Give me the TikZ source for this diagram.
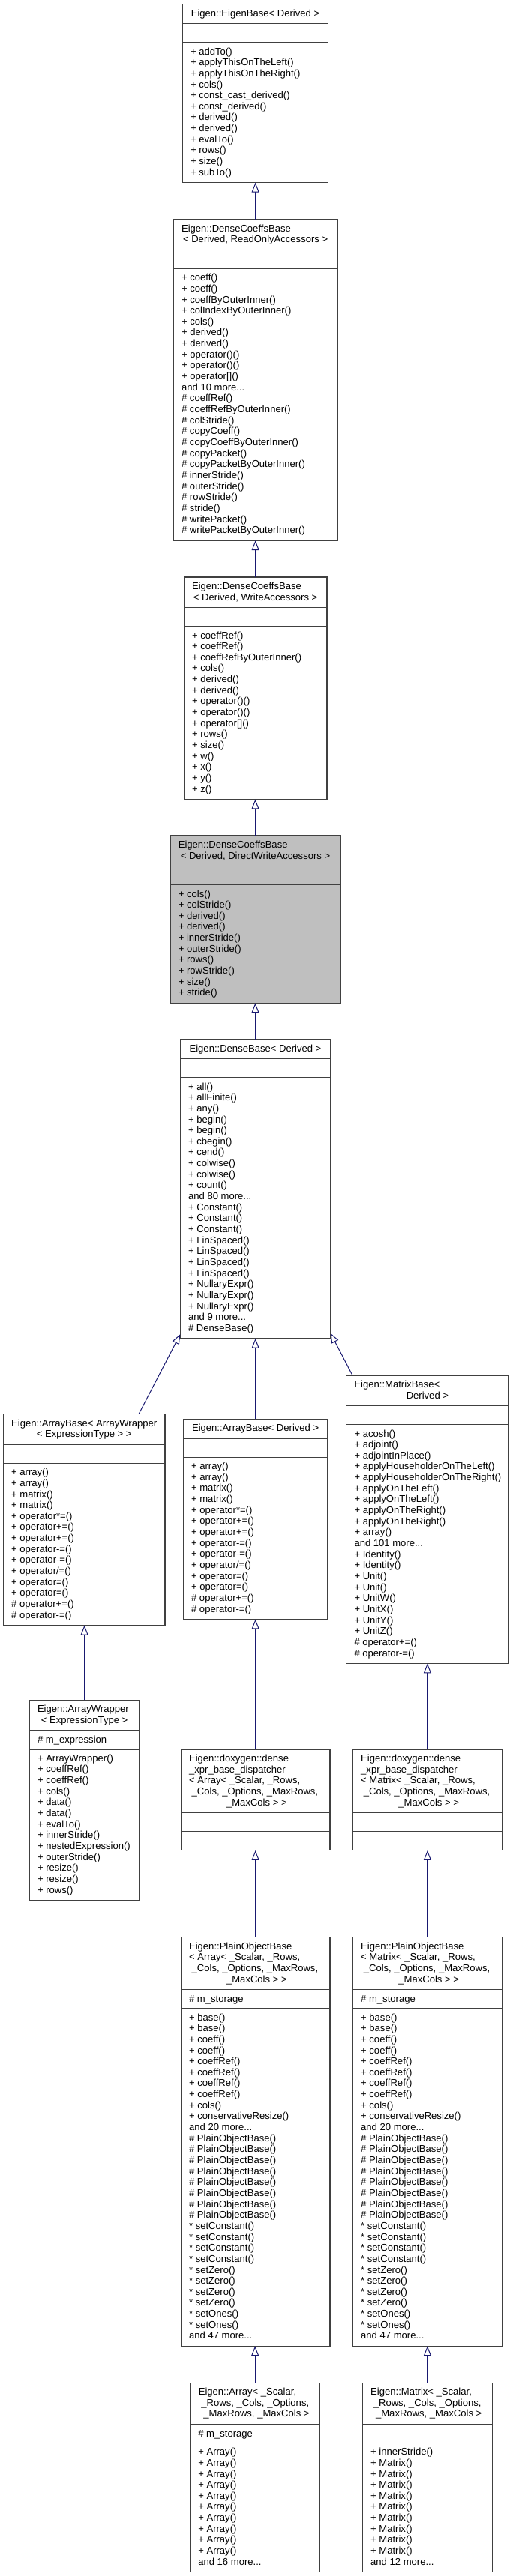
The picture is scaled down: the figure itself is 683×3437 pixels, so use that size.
\documentclass[tikz,border=0pt]{standalone}
\usepackage{fontspec}
\setmainfont{Liberation Sans}
\usetikzlibrary{arrows.meta,fit,calc}
\definecolor{boxc}{HTML}{404040}
\definecolor{arrc}{HTML}{191970}
\definecolor{hl}{HTML}{BFBFBF}
\tikzset{
 umlbox/.style={draw=boxc, line width=0.8pt, inner sep=0pt, outer sep=0pt},
 sepline/.style={draw=boxc, line width=0.8pt},
 txt/.style={anchor=west, inner sep=0pt, outer sep=0pt, text height=7pt, text depth=0pt, font=\fontsize{9.8pt}{11pt}\selectfont},
 ctxt/.style={txt, anchor=center},
 inh/.style={draw=arrc, line width=0.75pt, -{Triangle[open, length=9.75pt, width=7.5pt]}},
}
% #1 name #2 x1 #3 x2 #4 top #5 title lines #6 attribute #7 members #8 number of members #9 fill
\newcommand\ubox[9]{%
 \pgfmathsetmacro\uA{#4+25.7+14.65*(#5-1)}%
 \pgfmathsetmacro\uB{\uA+25.3}%
 \pgfmathsetmacro\uF{\uB+11.7}%
 \pgfmathsetmacro\uT{(#8>0)*(\uF+14.65*(#8-1)+14)+(#8<1)*(\uB+25)}%
 \node[umlbox, fill=#9, fit={(#2,#4) (#3,\uT)}] (#1) {};
 \draw[sepline] (#2,\uA) -- (#3,\uA) (#2,\uB) -- (#3,\uB);
 \node[txt] at ({#2+10.8},{\uA+12.6}) {#6};
 \foreach \t [count=\i from 0] in {#7} {\node[txt] at ({#2+10.8},{\uF+14.65*\i}) {\t};}
}
\begin{document}
\begin{tikzpicture}[x=0.75pt, y=-0.75pt]
\useasboundingbox (0,0) rectangle (683,3437);
\fill[white] (0,0) rectangle (683,3437);

% EigenBase
\ubox{eb}{243.3}{437.7}{5.7}{1}{}{+ addTo(), + applyThisOnTheLeft(), + applyThisOnTheRight(), + cols(), + const\_cast\_derived(), + const\_derived(), + derived(), + derived(), + evalTo(), + rows(), + size(), + subTo()}{12}{white}
\node[ctxt] at (340.5,17.4) {Eigen::EigenBase< Derived >};

% ReadOnly
\ubox{ro}{231.3}{450}{292.7}{2}{}{+ coeff(), + coeff(), + coeffByOuterInner(), + colIndexByOuterInner(), + cols(), + derived(), + derived(), + operator()(), + operator()(), + operator[](), and 10 more.{}.{}., \# coeffRef(), \# coeffRefByOuterInner(), \# colStride(), \# copyCoeff(), \# copyCoeffByOuterInner(), \# copyPacket(), \# copyPacketByOuterInner(), \# innerStride(), \# outerStride(), \# rowStride(), \# stride(), \# writePacket(), \# writePacketByOuterInner()}{24}{white}
\node[txt] at (242.1,304.4) {Eigen::DenseCoeffsBase};
\node[ctxt] at (340.65,319.05) {< Derived, ReadOnlyAccessors >};

% Write
\ubox{wr}{245.3}{436}{770}{2}{}{+ coeffRef(), + coeffRef(), + coeffRefByOuterInner(), + cols(), + derived(), + derived(), + operator()(), + operator()(), + operator[](), + rows(), + size(), + w(), + x(), + y(), + z()}{15}{white}
\node[txt] at (256.1,781.7) {Eigen::DenseCoeffsBase};
\node[ctxt] at (340.65,796.35) {< Derived, WriteAccessors >};

% DirectWrite
\ubox{dw}{227}{454}{1115}{2}{}{+ cols(), + colStride(), + derived(), + derived(), + innerStride(), + outerStride(), + rows(), + rowStride(), + size(), + stride()}{10}{hl}
\node[txt] at (237.8,1126.7) {Eigen::DenseCoeffsBase};
\node[ctxt] at (340.5,1141.35) {< Derived, DirectWriteAccessors >};

% DenseBase
\ubox{db}{240.3}{440.7}{1386.7}{1}{}{+ all(), + allFinite(), + any(), + begin(), + begin(), + cbegin(), + cend(), + colwise(), + colwise(), + count(), and 80 more.{}.{}., + Constant(), + Constant(), + Constant(), + LinSpaced(), + LinSpaced(), + LinSpaced(), + LinSpaced(), + NullaryExpr(), + NullaryExpr(), + NullaryExpr(), and 9 more.{}.{}., \# DenseBase()}{23}{white}
\node[ctxt] at (340.5,1398.4) {Eigen::DenseBase< Derived >};

% ArrayBase< ArrayWrapper >
\ubox{aab}{4.4}{220}{1886.7}{2}{}{+ array(), + array(), + matrix(), + matrix(), + operator*=(), + operator+=(), + operator+=(), + operator-=(), + operator-=(), + operator/=(), + operator=(), + operator=(), \# operator+=(), \# operator-=()}{14}{white}
\node[txt] at (15.2,1898.4) {Eigen::ArrayBase< ArrayWrapper};
\node[ctxt] at (112.2,1913.05) {< ExpressionType > >};

% ArrayBase< Derived >
\ubox{ab}{244.3}{437}{1893.3}{1}{}{+ array(), + array(), + matrix(), + matrix(), + operator*=(), + operator+=(), + operator+=(), + operator-=(), + operator-=(), + operator/=(), + operator=(), + operator=(), \# operator+=(), \# operator-=()}{14}{white}
\node[ctxt] at (340.65,1905) {Eigen::ArrayBase< Derived >};

% MatrixBase
\ubox{mb}{461.7}{678}{1835}{2}{}{+ acosh(), + adjoint(), + adjointInPlace(), + applyHouseholderOnTheLeft(), + applyHouseholderOnTheRight(), + applyOnTheLeft(), + applyOnTheLeft(), + applyOnTheRight(), + applyOnTheRight(), + array(), and 101 more.{}.{}., + Identity(), + Identity(), + Unit(), + Unit(), + UnitW(), + UnitX(), + UnitY(), + UnitZ(), \# operator+=(), \# operator-=()}{21}{white}
\node[txt] at (472.5,1846.7) {Eigen::MatrixBase<};
\node[ctxt] at (569.9,1861.35) {Derived >};

% ArrayWrapper
\ubox{aw}{39.2}{186}{2268.3}{2}{\# m\_expression}{+ ArrayWrapper(), + coeffRef(), + coeffRef(), + cols(), + data(), + data(), + evalTo(), + innerStride(), + nestedExpression(), + outerStride(), + resize(), + resize(), + rows()}{13}{white}
\node[txt] at (50,2280) {Eigen::ArrayWrapper};
\node[ctxt] at (112.6,2294.65) {< ExpressionType >};

% dispatchers
\ubox{dpa}{241.3}{440}{2334.3}{5}{}{}{0}{white}
\node[txt] at (252.1,2346) {Eigen::doxygen::dense};
\node[txt] at (252.1,2360.65) {\_xpr\_base\_dispatcher};
\node[txt] at (252.1,2375.3) {< Array< \_Scalar, \_Rows,};
\node[txt] at (255.7,2389.95) {\_Cols, \_Options, \_MaxRows,};
\node[ctxt] at (342.4,2404.6) {\_MaxCols > >};

\ubox{dpm}{470.4}{669.4}{2334.3}{5}{}{}{0}{white}
\node[txt] at (481.2,2346) {Eigen::doxygen::dense};
\node[txt] at (481.2,2360.65) {\_xpr\_base\_dispatcher};
\node[txt] at (481.2,2375.3) {< Matrix< \_Scalar, \_Rows,};
\node[txt] at (484.8,2389.95) {\_Cols, \_Options, \_MaxRows,};
\node[ctxt] at (571.7,2404.6) {\_MaxCols > >};

% PlainObjectBase
\ubox{pa}{241.3}{440}{2584.7}{4}{\# m\_storage}{+ base(), + base(), + coeff(), + coeff(), + coeffRef(), + coeffRef(), + coeffRef(), + coeffRef(), + cols(), + conservativeResize(), and 20 more.{}.{}., \# PlainObjectBase(), \# PlainObjectBase(), \# PlainObjectBase(), \# PlainObjectBase(), \# PlainObjectBase(), \# PlainObjectBase(), \# PlainObjectBase(), \# PlainObjectBase(), * setConstant(), * setConstant(), * setConstant(), * setConstant(), * setZero(), * setZero(), * setZero(), * setZero(), * setOnes(), * setOnes(), and 47 more.{}.{}.}{30}{white}
\node[txt] at (252.1,2596.4) {Eigen::PlainObjectBase};
\node[txt] at (252.1,2611.05) {< Array< \_Scalar, \_Rows,};
\node[txt] at (255.7,2625.7) {\_Cols, \_Options, \_MaxRows,};
\node[ctxt] at (342.4,2640.35) {\_MaxCols > >};

\ubox{pm}{470.4}{669.4}{2584.7}{4}{\# m\_storage}{+ base(), + base(), + coeff(), + coeff(), + coeffRef(), + coeffRef(), + coeffRef(), + coeffRef(), + cols(), + conservativeResize(), and 20 more.{}.{}., \# PlainObjectBase(), \# PlainObjectBase(), \# PlainObjectBase(), \# PlainObjectBase(), \# PlainObjectBase(), \# PlainObjectBase(), \# PlainObjectBase(), \# PlainObjectBase(), * setConstant(), * setConstant(), * setConstant(), * setConstant(), * setZero(), * setZero(), * setZero(), * setZero(), * setOnes(), * setOnes(), and 47 more.{}.{}.}{30}{white}
\node[txt] at (481.2,2596.4) {Eigen::PlainObjectBase};
\node[txt] at (481.2,2611.05) {< Matrix< \_Scalar, \_Rows,};
\node[txt] at (484.8,2625.7) {\_Cols, \_Options, \_MaxRows,};
\node[ctxt] at (571.7,2640.35) {\_MaxCols > >};

% Array and Matrix
\ubox{ar}{253.5}{426.8}{3179}{3}{\# m\_storage}{+ Array(), + Array(), + Array(), + Array(), + Array(), + Array(), + Array(), + Array(), + Array(), + Array(), and 16 more.{}.{}.}{11}{white}
\node[txt] at (264.8,3190.7) {Eigen::Array< \_Scalar,};
\node[txt] at (268.4,3205.35) {\_Rows, \_Cols, \_Options,};
\node[ctxt] at (342,3220) {\_MaxRows, \_MaxCols >};

\ubox{mx}{483.4}{656.4}{3179}{3}{}{+ innerStride(), + Matrix(), + Matrix(), + Matrix(), + Matrix(), + Matrix(), + Matrix(), + Matrix(), + Matrix(), + Matrix(), and 12 more.{}.{}.}{11}{white}
\node[txt] at (494.2,3190.7) {Eigen::Matrix< \_Scalar,};
\node[txt] at (497.8,3205.35) {\_Rows, \_Cols, \_Options,};
\node[ctxt] at (571.7,3220) {\_MaxRows, \_MaxCols >};

% inheritance arrows
\draw[inh] (ro.north) -- (ro.north |- eb.south);
\draw[inh] (wr.north) -- (wr.north |- ro.south);
\draw[inh] (dw.north) -- (dw.north |- wr.south);
\draw[inh] (db.north) -- (db.north |- dw.south);
\draw[inh] ($(aab.north west)+(180.6,0)$) -- ($(db.south west)+(0,-5.5)$);
\draw[inh] (ab.north) -- (ab.north |- db.south);
\draw[inh] ($(mb.north west)+(8.3,0)$) -- ($(db.south east)+(0,-7)$);
\draw[inh] (aw.north) -- (aw.north |- aab.south);
\draw[inh] (dpa.north) -- (dpa.north |- ab.south);
\draw[inh] (dpm.north) -- (dpm.north |- mb.south);
\draw[inh] (pa.north) -- (pa.north |- dpa.south);
\draw[inh] (pm.north) -- (pm.north |- dpm.south);
\draw[inh] (ar.north) -- (ar.north |- pa.south);
\draw[inh] (mx.north) -- (mx.north |- pm.south);
\end{tikzpicture}
\end{document}
